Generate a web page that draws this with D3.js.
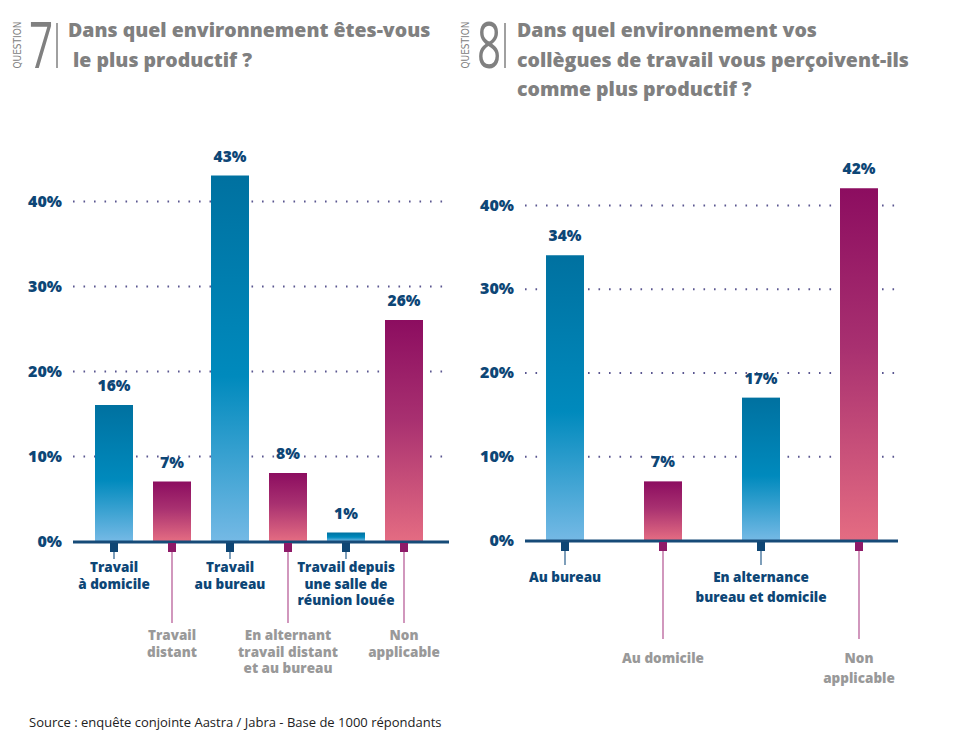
<!DOCTYPE html>
<html>
<head>
<meta charset="utf-8">
<script src="https://cdn.jsdelivr.net/npm/d3@7"></script>
<style>
  body { margin: 0; background: #fff; }
  svg { display: block; font-family: "Open Sans", "Noto Sans", sans-serif; }
</style>
</head>
<body>
<script>

// data
var q7Labels = [["Travail", "à domicile"], ["Travail", "distant"], ["Travail", "au bureau"],
    ["En alternant", "travail distant", "et au bureau"], ["Travail depuis", "une salle de", "réunion louée"],
    ["Non", "applicable"]];
var q7Values = [16, 7, 43, 8, 1, 26];

var q8Labels = [["Au bureau"], ["Au domicile"], ["En alternance", "bureau et domicile"], ["Non", "applicable"]];
var q8Values = [34, 7, 17, 42];

var yTicks = [0, 10, 20, 30, 40];

var q7Title = ["Dans quel environnement êtes-vous", " le plus productif ?"];
var q8Title = ["Dans quel environnement vos", "collègues de travail vous perçoivent-ils", "comme plus productif ?"];

var source = "Source : enquête conjointe Aastra / Jabra - Base de 1000 répondants";

var navy = "#0d4676", grey = "#999", titleGrey = "#808080";

var svg = d3.select("body").append("svg")
    .attr("width", 961)
    .attr("height", 736);

var defs = svg.append("defs");

var blueGrad = defs.append("linearGradient").attr("id", "blueGrad")
    .attr("x1", 0).attr("y1", 0).attr("x2", 0).attr("y2", 1);
blueGrad.append("stop").attr("offset", "0%").attr("stop-color", "#0071a0");
blueGrad.append("stop").attr("offset", "55%").attr("stop-color", "#008abd");
blueGrad.append("stop").attr("offset", "100%").attr("stop-color", "#74b9e5");

var pinkGrad = defs.append("linearGradient").attr("id", "pinkGrad")
    .attr("x1", 0).attr("y1", 0).attr("x2", 0).attr("y2", 1);
pinkGrad.append("stop").attr("offset", "0%").attr("stop-color", "#8c0d60");
pinkGrad.append("stop").attr("offset", "45%").attr("stop-color", "#a83070");
pinkGrad.append("stop").attr("offset", "100%").attr("stop-color", "#e46c82");


function drawTitle(num, lines, x0, textX) {
    var t = svg.append("g");

    t.append("text")
        .attr("transform", "translate(" + (x0 + 4) + ",45) rotate(-90)")
        .attr("text-anchor", "middle")
        .style("font-size", "10px")
        .style("font-family", "'DejaVu Sans Condensed', 'Liberation Sans', sans-serif")
        .attr("fill", titleGrey)
        .text("QUESTION");

    t.append("text")
        .attr("transform", "translate(" + (x0 + 12) + ",68) scale(0.66,1)")
        .style("font-size", "64px")
        .style("font-weight", "normal")
        .style("font-family", "'Open Sans', sans-serif")
        .attr("fill", titleGrey)
        .text(num);

    t.append("line")
        .attr("x1", x0 + 40).attr("x2", x0 + 40)
        .attr("y1", 23).attr("y2", 68)
        .attr("stroke", titleGrey).attr("stroke-width", 1.5);

    t.selectAll(".tl")
        .data(lines)
        .enter().append("text")
        .attr("class", "tl")
        .attr("x", textX)
        .attr("y", function (d, i) { return 37 + i * 29.5; })
        .attr("fill", titleGrey)
        .style("font-size", "19.5px")
        .style("font-weight", 800)
        .style("white-space", "pre")
        .text(function (d) { return d; });
}

drawTitle("7", q7Title, 17, 68);
drawTitle("8", q8Title, 465, 517);


function renderChart(o) {
    var g = svg.append("g");

    var x = d3.scalePoint().domain(d3.range(o.values.length)).range(o.xRange);
    var y = d3.scaleLinear().domain([0, 40]).range(o.yRange);

    // dotted grid
    g.append("g")
        .attr("transform", "translate(" + o.axisX0 + ",0)")
        .call(d3.axisLeft(y).tickValues(yTicks.slice(1)).tickFormat("").tickSize(-(o.gridX1 - o.axisX0)))
        .call(function (s) {
            s.select(".domain").remove();
            s.selectAll("line")
                .attr("stroke", "#5a5690")
                .attr("stroke-width", 2)
                .attr("stroke-dasharray", "1.6,8.9");
        });

    // y labels
    g.append("g")
        .attr("transform", "translate(" + o.axisX0 + ",0)")
        .call(d3.axisLeft(y).tickValues(yTicks).tickFormat(function (d) { return d + "%"; })
            .tickSize(0).tickPadding(11))
        .call(function (s) {
            s.select(".domain").remove();
            s.selectAll("text")
                .attr("fill", navy)
                .style("font-size", "16px")
                .style("font-weight", 800)
                .style("font-family", "'Open Sans', sans-serif");
        });

    var barW = 38;

    g.selectAll(".bar")
        .data(o.values)
        .enter().append("rect")
        .attr("class", "bar")
        .attr("x", function (d, i) { return x(i) - barW / 2; })
        .attr("y", function (d) { return y(d); })
        .attr("width", barW)
        .attr("height", function (d) { return y(0) - y(d); })
        .attr("fill", function (d, i) { return i % 2 ? "url(#pinkGrad)" : "url(#blueGrad)"; });

    g.selectAll(".val")
        .data(o.values)
        .enter().append("text")
        .attr("class", "val")
        .attr("x", function (d, i) { return x(i); })
        .attr("y", function (d) { return y(d) - 14; })
        .attr("text-anchor", "middle")
        .attr("fill", navy)
        .style("font-size", "15.5px")
        .style("font-weight", 800)
        .text(function (d) { return d + "%"; });

    // baseline
    g.append("line")
        .attr("x1", o.axisX0).attr("x2", o.axisX1)
        .attr("y1", y(0) + 1).attr("y2", y(0) + 1)
        .attr("stroke", "#164b78").attr("stroke-width", 3);

    // ticks with leader lines
    var ticks = g.selectAll(".tk")
        .data(o.labels)
        .enter().append("g")
        .attr("class", "tk")
        .attr("transform", function (d, i) { return "translate(" + x(i) + "," + y(0) + ")"; });

    ticks.append("line")
        .attr("y1", 8)
        .attr("y2", function (d, i) { return i % 2 ? o.longY : o.shortY; })
        .attr("stroke", function (d, i) { return i % 2 ? "#b8609a" : "#3a6b95"; })
        .attr("stroke-width", 1.3);

    ticks.append("rect")
        .attr("x", -4).attr("y", 2)
        .attr("width", 8).attr("height", 9)
        .attr("fill", function (d, i) { return i % 2 ? "#8e1a68" : "#0f4674"; });

    ticks.each(function (d, i) {
        var top = i % 2 ? o.greyY : o.navyY;
        d3.select(this).selectAll("text")
            .data(d)
            .enter().append("text")
            .attr("y", function (t, j) { return top + j * o.lineH; })
            .attr("text-anchor", "middle")
            .attr("fill", i % 2 ? grey : navy)
            .style("font-size", "13.5px")
            .style("font-weight", 800)
            .text(function (t) { return t; });
    });
}

renderChart({
    values: q7Values, labels: q7Labels,
    xRange: [114, 404], yRange: [541, 201],
    axisX0: 73, axisX1: 449, gridX1: 446,
    shortY: 18, longY: 82, navyY: 31, greyY: 99, lineH: 16.5
});

renderChart({
    values: q8Values, labels: q8Labels,
    xRange: [565, 859], yRange: [540, 205],
    axisX0: 525, axisX1: 898, gridX1: 896,
    shortY: 25, longY: 99, navyY: 42, greyY: 123, lineH: 20
});

svg.append("text")
    .attr("x", 29)
    .attr("y", 727)
    .attr("fill", "#222")
    .style("font-size", "13px")
    .text(source);

</script>
</body>
</html>
